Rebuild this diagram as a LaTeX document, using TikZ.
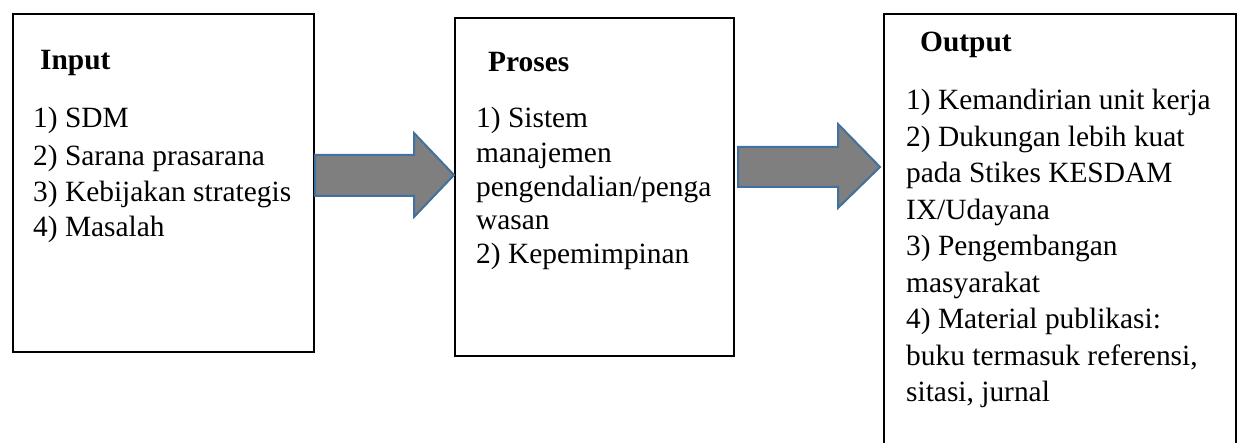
\documentclass[tikz,border=0pt]{standalone}
\usepackage{fontspec}
\setmainfont{Liberation Serif}
\definecolor{arrowgray}{HTML}{7F7F7F}
\definecolor{arrowblue}{HTML}{41719C}
\begin{document}
\begin{tikzpicture}[x=1pt,y=-1pt,
  box/.style={draw=black, line width=2pt, rectangle, inner sep=0pt, anchor=north west},
  txt/.style={anchor=base west, inner sep=0pt, font=\fontsize{29.4}{36}\selectfont},
  ttl/.style={anchor=base west, inner sep=0pt, font=\fontsize{29.4}{36}\selectfont\bfseries},
  blockarrow/.style={fill=arrowgray, draw=arrowblue, line width=2pt, line join=miter}]
\useasboundingbox (0,0) rectangle (1242,443);
\clip (0,0) rectangle (1242,443);
\fill[white] (0,0) rectangle (1242,443);

% boxes
\node[box, minimum width=301pt, minimum height=338pt] (input) at (12,13) {};
\node[box, minimum width=279pt, minimum height=338pt] (proses) at (454,17) {};
\node[box, minimum width=352pt, minimum height=460pt] (output) at (883,13) {};

% block arrows
\coordinate (a2s) at ([xshift=3pt]proses.east);
\coordinate (a2t) at ([xshift=-3pt]output.west);
\draw[blockarrow] (input.east |- 0,155) -- (414,155) -- (414,133) -- (proses.west |- 0,175)
  -- (414,217) -- (414,196) -- (input.east |- 0,196) -- cycle;
\draw[blockarrow] (a2s |- 0,147) -- (838,147) -- (838,124) -- (a2t |- 0,167)
  -- (838,208) -- (838,187) -- (a2s |- 0,187) -- cycle;

% Input text
\node[ttl] (inT) at (40,70) {Input};
\node[txt] (in1) at (33,128) {1) SDM};
\node[txt] (in2) at (33,166) {2) Sarana prasarana};
\node[txt] (in3) at (33,202) {3) Kebijakan strategis};
\node[txt] (in4) at (33,237) {4) Masalah};

% Proses text
\node[ttl] (prT) at (488,72) {Proses};
\node[txt] (pr1) at (476,128) {1) Sistem};
\node[txt] (pr2) at (476,163) {manajemen};
\node[txt] (pr3) at (476,197) {pengendalian/penga};
\node[txt] (pr4) at (476,230) {wasan};
\node[txt] (pr5) at (476,264) {2) Kepemimpinan};

% Output text
\node[ttl] (ouT) at (920,52) {Output};
\node[txt] (ou1) at (906,110) {1) Kemandirian unit kerja};
\node[txt] (ou2) at (906,146.5) {2) Dukungan lebih kuat};
\node[txt] (ou3) at (906,183) {pada Stikes KESDAM};
\node[txt] (ou4) at (906,219.5) {IX/Udayana};
\node[txt] (ou5) at (906,256) {3) Pengembangan};
\node[txt] (ou6) at (906,292.5) {masyarakat};
\node[txt] (ou7) at (906,329) {4) Material publikasi:};
\node[txt] (ou8) at (906,365.5) {buku termasuk referensi,};
\node[txt] (ou9) at (906,402) {sitasi, jurnal};
\end{tikzpicture}
\end{document}
